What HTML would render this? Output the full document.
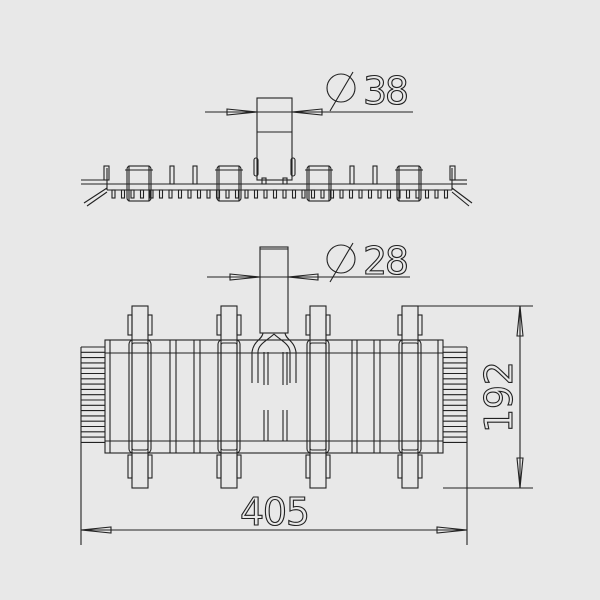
<!DOCTYPE html>
<html><head><meta charset="utf-8"><style>
html,body{margin:0;padding:0;background:#e8e8e8;}
svg{display:block}
text{font-family:"DejaVu Sans","Liberation Sans",sans-serif;fill:none;stroke:#222;stroke-width:1.1}
</style></head><body>
<svg id="s" width="600" height="600" viewBox="0 0 600 600" xmlns="http://www.w3.org/2000/svg">
<rect width="600" height="600" fill="#e8e8e8"/>
<g id="g" fill="none" stroke="#222" stroke-width="1.1"></g>
<text x="363" y="104" font-size="38" textLength="46">38</text>
<text x="363" y="274" font-size="38" textLength="46">28</text>
<text x="240" y="525" font-size="38" textLength="70">405</text>
<text x="0" y="0" font-size="38" textLength="72" transform="translate(512,433) rotate(-90)">192</text>
</svg>
<script>
var g=document.getElementById('g'),h='';
function L(a,b,c,d){h+='<line x1="'+a+'" y1="'+b+'" x2="'+c+'" y2="'+d+'"/>';}
function R(x,y,w,hh,r){h+='<rect x="'+x+'" y="'+y+'" width="'+w+'" height="'+hh+'"'+(r?' rx="'+r+'"':'')+'/>';}
function P(d,f){h+='<path d="'+d+'"'+(f?' fill="#222"':'')+'/>';}
// ===== Top view =====
R(257,98,35,82);L(257,132,292,132);
L(205,112,413,112);
P('M227,109 L257,112 L227,115Z');P('M322,109 L292,112 L322,115Z');
h+='<circle cx="341" cy="88" r="14"/>';L(330,111,353,72);
L(107,184,452,184);L(107,190,452,190);
L(81,180,107,180);L(81,184,107,184);L(107,168,107,190);
L(452,180,467,180);L(452,184,467,184);L(452,168,452,190);
L(84,203,107,188);L(87,206,107,192);L(452,188,472,203);L(452,192,469,206);
for(var x=112;x<447;x+=9.5){R(x,190,3,8);}
[170,193,350,373].forEach(function(x){R(x,166,4,18);});
R(104,166,5,14);R(450,166,5,14);
R(262,178,4,6);R(283,178,4,6);
R(254,158,4,18,2);R(291,158,4,18,2);
[139,229,319,409].forEach(function(c){R(c-12,166,24,35,3);R(c-10,166,20,35);L(c-14,170,c+14,170);});
// ===== Bottom view =====
R(260,247,28,86);L(260,249,288,249);
L(207,277,410,277);
P('M230,274 L260,277 L230,280Z');P('M318,274 L288,277 L318,280Z');
h+='<circle cx="341" cy="259" r="14"/>';L(330,282,353,243);
R(105,340,338,113);L(105,353,443,353);L(105,441,443,441);
L(110,340,110,453);L(438,340,438,453);
for(var y=347;y<=443;y+=5.3){L(81,y,105,y);L(443,y,467,y);}
L(81,347,81,545);L(467,347,467,545);
[170,176,194,200,352,357,374,380].forEach(function(x){L(x,340,x,453);});
[140,229,318,410].forEach(function(c){
 R(c-8,306,16,182);
 R(c-12,315,4,20);R(c+8,315,4,20);R(c-12,455,4,23);R(c+8,455,4,23);
 R(c-11,340,22,113,4);R(c-8,343,16,107,2);
});
P('M263,333 C262,340 254,340 252,352 L252,383 M258,383 L258,352 C258,344 268,340 274,334');
P('M285,333 C286,340 294,340 296,352 L296,383 M290,383 L290,352 C290,344 280,340 274,334');
L(264,352,264,385);L(268,352,268,385);L(283,352,283,385);L(287,352,287,385);
L(264,410,264,441);L(268,410,268,441);L(283,410,283,441);L(287,410,287,441);
L(81,530,467,530);
P('M81,530 L111,527 L111,533Z');P('M467,530 L437,527 L437,533Z');
L(403,306,533,306);L(443,488,533,488);L(520,306,520,488);
P('M520,306 L517,336 L523,336Z');P('M520,488 L517,458 L523,458Z');
g.innerHTML=h;
</script>
</body></html>
